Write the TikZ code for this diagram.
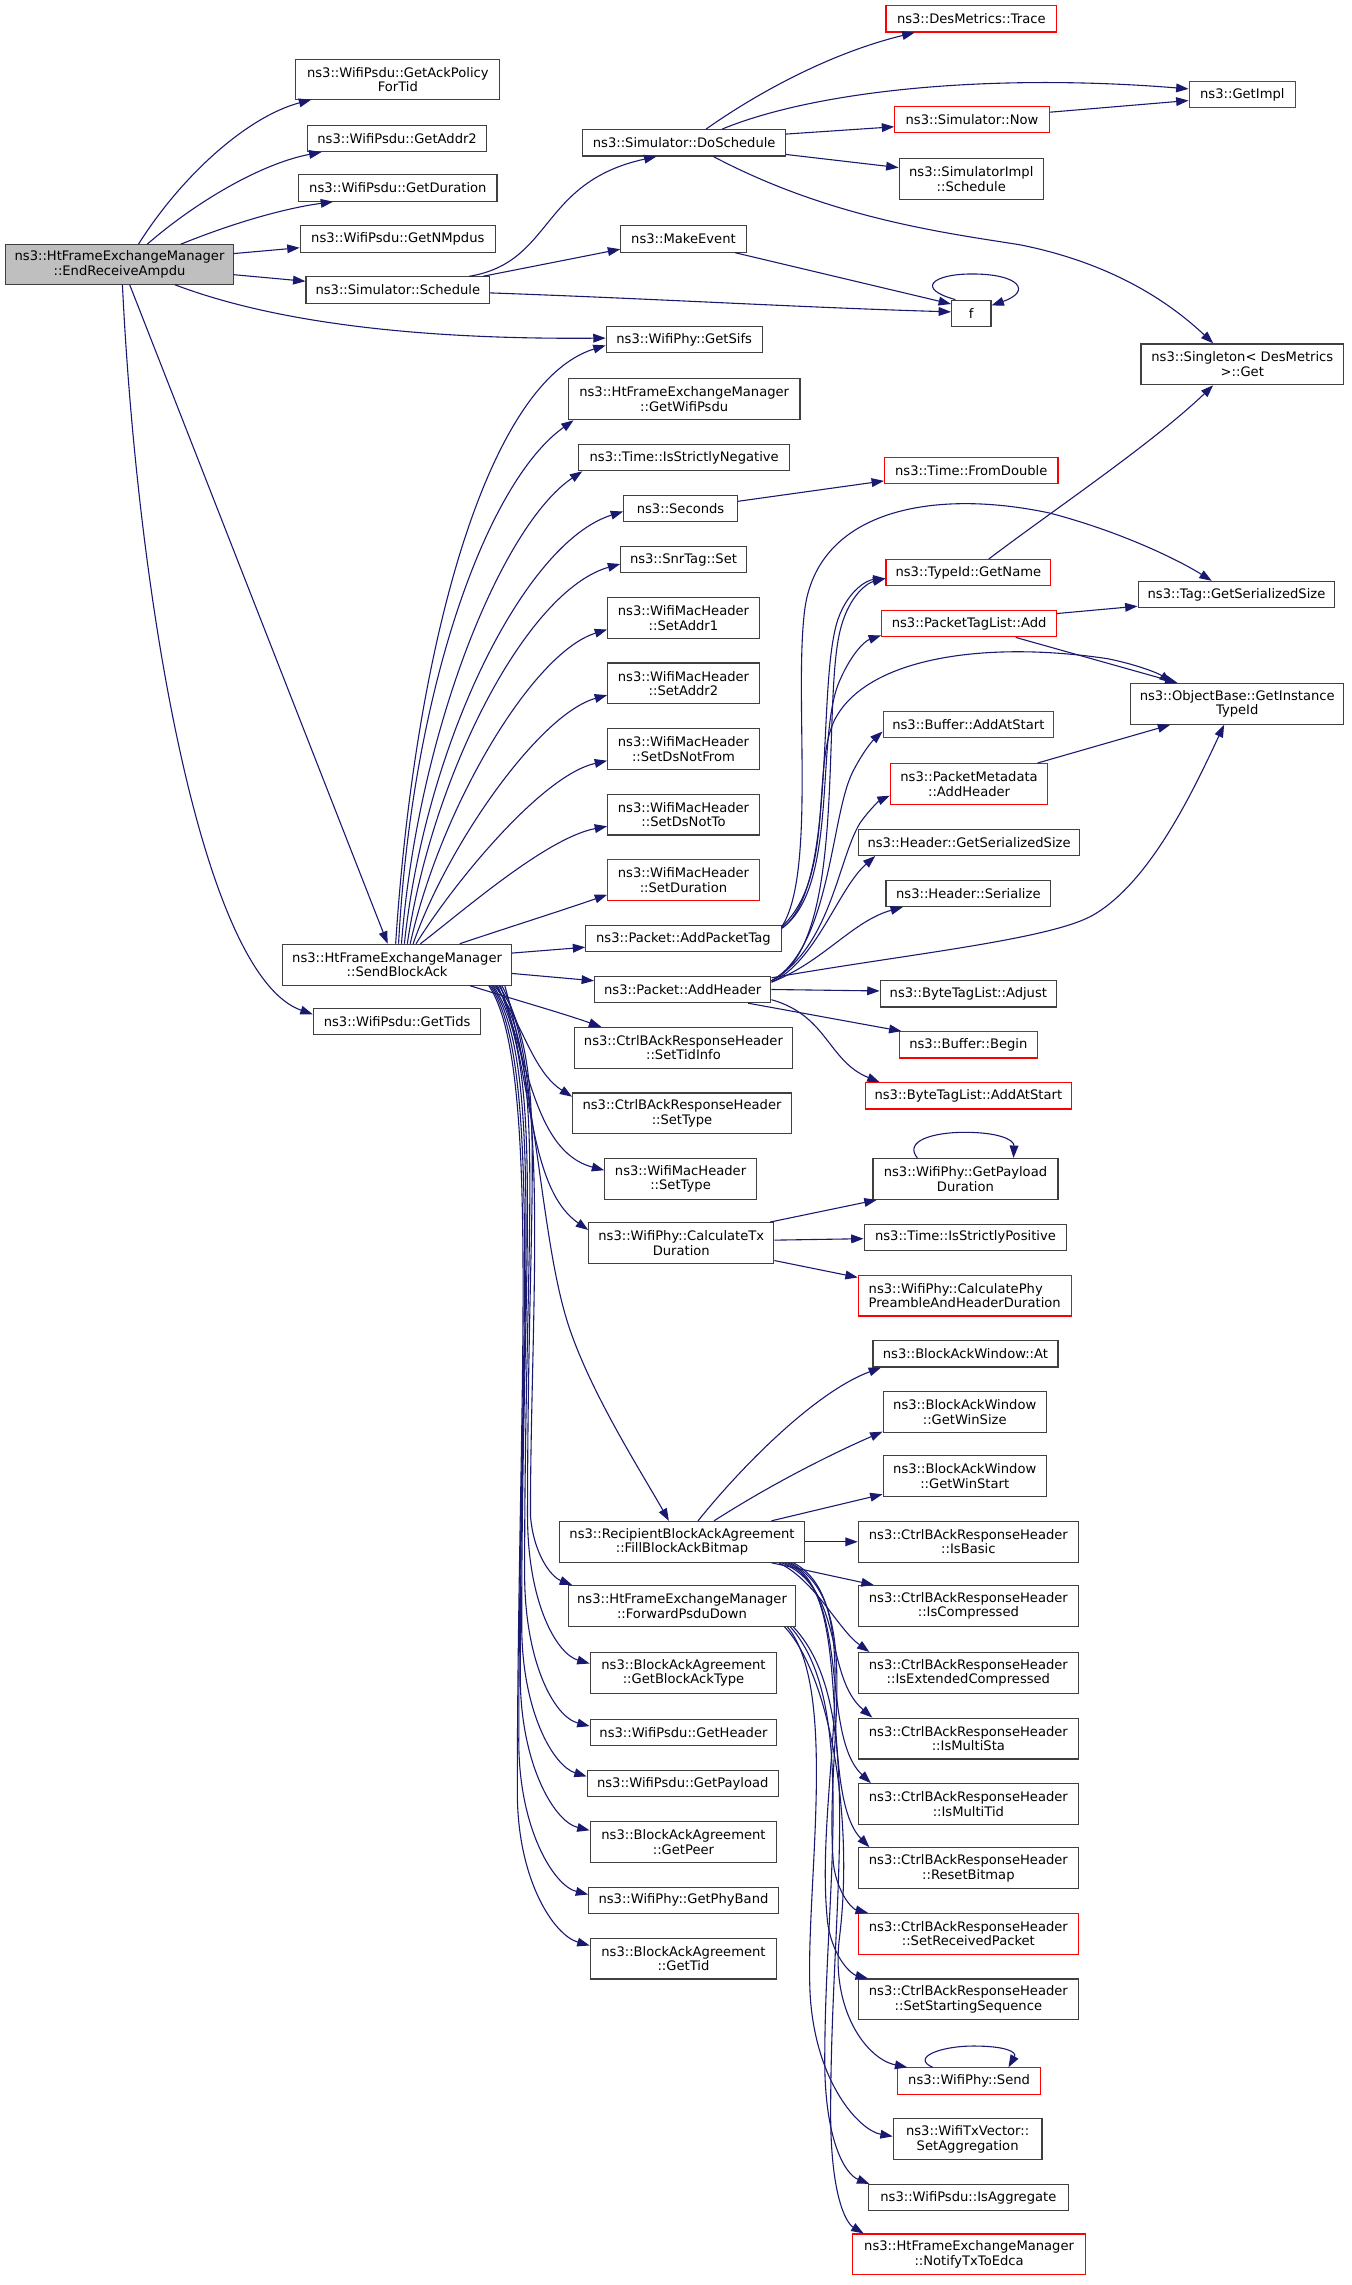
\documentclass[tikz,border=0pt]{standalone}
\usepackage{fontspec}
\setmainfont{DejaVu Sans}
\usetikzlibrary{arrows.meta}
\definecolor{edgeblue}{HTML}{191970}
\definecolor{rootfill}{HTML}{BFBFBF}
\definecolor{bordergray}{HTML}{404040}
\tikzset{
  box/.style={draw=bordergray, line width=0.8pt, fill=white, inner sep=0pt, align=center, font=\fontsize{9}{10}\selectfont},
  redbox/.style={box, draw=red},
  rootbox/.style={box, fill=rootfill},
  edg/.style={draw=edgeblue, line width=0.75pt, -{Triangle[length=8.5pt,width=6pt]}},
}
\newcommand\mybox[7][box]{%
  \pgfmathsetmacro\bxcx{(#3+#5)/2}%
  \pgfmathsetmacro\bxcy{-(#4+#6)/2}%
  \pgfmathsetmacro\bxw{#5-#3}%
  \pgfmathsetmacro\bxh{#6-#4}%
  \node[#1, minimum width=\bxw pt, minimum height=\bxh pt] (#2) at (\bxcx,\bxcy) {#7};}
\begin{document}
\begin{tikzpicture}[x=1pt,y=1pt]
\useasboundingbox (0,0) rectangle (927.1,-1568);
% column 1-2
\mybox[rootbox]{root}{4}{168}{160}{195}{ns3::HtFrameExchangeManager\\::EndReceiveAmpdu}
\mybox{ackpol}{203}{41}{343}{68}{ns3::WifiPsdu::GetAckPolicy\\ForTid}
\mybox{addr2}{211}{86}{334}{104}{ns3::WifiPsdu::GetAddr2}
\mybox{dur}{205}{120}{341}{138}{ns3::WifiPsdu::GetDuration}
\mybox{nmpdus}{206}{155}{340}{173}{ns3::WifiPsdu::GetNMpdus}
\mybox{sched}{210}{190}{336}{208}{ns3::Simulator::Schedule}
\mybox{sba}{194}{648}{351}{676}{ns3::HtFrameExchangeManager\\::SendBlockAck}
\mybox{tids}{215}{692}{330}{710}{ns3::WifiPsdu::GetTids}
% column 3
\mybox{dosched}{400}{89}{539}{107}{ns3::Simulator::DoSchedule}
\mybox{mkev}{426}{155}{512}{173}{ns3::MakeEvent}
\mybox{sifs}{416}{224}{523}{242}{ns3::WifiPhy::GetSifs}
\mybox{gwp}{390}{260}{549}{288}{ns3::HtFrameExchangeManager\\::GetWifiPsdu}
\mybox{isneg}{397}{305}{542}{323}{ns3::Time::IsStrictlyNegative}
\mybox{seconds}{428}{340}{506}{358}{ns3::Seconds}
\mybox{snrtag}{426}{375}{512}{393}{ns3::SnrTag::Set}
\mybox{addr1}{417}{410}{521}{438}{ns3::WifiMacHeader\\::SetAddr1}
\mybox{setaddr2}{417}{455}{521}{483}{ns3::WifiMacHeader\\::SetAddr2}
\mybox{dsnotfrom}{417}{500}{521}{528}{ns3::WifiMacHeader\\::SetDsNotFrom}
\mybox{dsnotto}{417}{545}{521}{573}{ns3::WifiMacHeader\\::SetDsNotTo}
\mybox[redbox]{setdur}{417}{590}{521}{618}{ns3::WifiMacHeader\\::SetDuration}
\mybox{addptag}{402}{635}{536}{653}{ns3::Packet::AddPacketTag}
\mybox{addhdr}{408}{670}{529}{688}{ns3::Packet::AddHeader}
\mybox{settid}{394}{705}{544}{733}{ns3::CtrlBAckResponseHeader\\::SetTidInfo}
\mybox{settype}{393}{750}{543}{778}{ns3::CtrlBAckResponseHeader\\::SetType}
\mybox{wmhsettype}{415}{795}{519}{823}{ns3::WifiMacHeader\\::SetType}
\mybox{calctx}{404}{839}{531}{867}{ns3::WifiPhy::CalculateTx\\Duration}
\mybox{fill}{384}{1044}{552}{1072}{ns3::RecipientBlockAckAgreement\\::FillBlockAckBitmap}
\mybox{fwd}{390}{1088}{546}{1116}{ns3::HtFrameExchangeManager\\::ForwardPsduDown}
\mybox{getbat}{405}{1134}{533}{1162}{ns3::BlockAckAgreement\\::GetBlockAckType}
\mybox{gethdr}{405}{1180}{533}{1198}{ns3::WifiPsdu::GetHeader}
\mybox{getpay}{403}{1215}{534}{1233}{ns3::WifiPsdu::GetPayload}
\mybox{getpeer}{405}{1250}{533}{1278}{ns3::BlockAckAgreement\\::GetPeer}
\mybox{getband}{404}{1295}{534}{1313}{ns3::WifiPhy::GetPhyBand}
\mybox{gettid}{405}{1330}{533}{1358}{ns3::BlockAckAgreement\\::GetTid}
% column 4
\mybox[redbox]{trace}{608}{4}{725}{22}{ns3::DesMetrics::Trace}
\mybox[redbox]{now}{614}{73}{720}{91}{ns3::Simulator::Now}
\mybox{simimpl}{617}{109}{716}{137}{ns3::SimulatorImpl\\::Schedule}
\mybox{f}{653}{206}{680}{224}{f}
\mybox[redbox]{fromdouble}{607}{314}{726}{332}{ns3::Time::FromDouble}
\mybox[redbox]{getname}{608}{384}{721}{402}{ns3::TypeId::GetName}
\mybox[redbox]{ptladd}{605}{419}{725}{437}{ns3::PacketTagList::Add}
\mybox[redbox]{addatstart}{606}{488}{723}{506}{ns3::Buffer::AddAtStart}
\mybox[redbox]{pmadd}{611}{524}{719}{552}{ns3::PacketMetadata\\::AddHeader}
\mybox{hgs}{589}{569}{741}{587}{ns3::Header::GetSerializedSize}
\mybox{hser}{608}{604}{721}{622}{ns3::Header::Serialize}
\mybox{bta}{604}{673}{725}{691}{ns3::ByteTagList::Adjust}
\mybox[redbox]{bbegin}{617}{708}{712}{726}{ns3::Buffer::Begin}
\mybox[redbox]{btaas}{594}{743}{735}{761}{ns3::ByteTagList::AddAtStart}
\mybox{payload}{599}{795}{726}{823}{ns3::WifiPhy::GetPayload\\Duration}
\mybox{ispos}{593}{840}{732}{858}{ns3::Time::IsStrictlyPositive}
\mybox[redbox, align=left]{calcphy}{589}{875}{735}{903}{ns3::WifiPhy::CalculatePhy\\PreambleAndHeaderDuration}
\mybox{bawat}{599}{920}{726}{938}{ns3::BlockAckWindow::At}
\mybox{winsize}{606}{955}{718}{983}{ns3::BlockAckWindow\\::GetWinSize}
\mybox{winstart}{606}{999}{718}{1027}{ns3::BlockAckWindow\\::GetWinStart}
\mybox{isbasic}{589}{1044}{740}{1072}{ns3::CtrlBAckResponseHeader\\::IsBasic}
\mybox{iscomp}{589}{1088}{740}{1116}{ns3::CtrlBAckResponseHeader\\::IsCompressed}
\mybox{isext}{589}{1134}{740}{1162}{ns3::CtrlBAckResponseHeader\\::IsExtendedCompressed}
\mybox{ismsta}{589}{1179}{740}{1207}{ns3::CtrlBAckResponseHeader\\::IsMultiSta}
\mybox{ismtid}{589}{1224}{740}{1252}{ns3::CtrlBAckResponseHeader\\::IsMultiTid}
\mybox{reset}{589}{1268}{740}{1296}{ns3::CtrlBAckResponseHeader\\::ResetBitmap}
\mybox[redbox]{setrecv}{589}{1313}{740}{1341}{ns3::CtrlBAckResponseHeader\\::SetReceivedPacket}
\mybox{setstart}{589}{1358}{740}{1386}{ns3::CtrlBAckResponseHeader\\::SetStartingSequence}
\mybox[redbox]{send}{616}{1419}{714}{1437}{ns3::WifiPhy::Send}
\mybox{setagg}{613}{1454}{715}{1482}{ns3::WifiTxVector::\\SetAggregation}
\mybox{isagg}{596}{1499}{733}{1517}{ns3::WifiPsdu::IsAggregate}
\mybox[redbox]{notify}{585}{1533}{745}{1561}{ns3::HtFrameExchangeManager\\::NotifyTxToEdca}
% column 5
\mybox[redbox]{getimpl}{816}{56}{889}{74}{ns3::GetImpl}
\mybox{singleton}{783}{236}{922}{264}{ns3::Singleton< DesMetrics\\>::Get}
\mybox{taggs}{781}{399}{916}{417}{ns3::Tag::GetSerializedSize}
\mybox{objbase}{776}{469}{922}{497}{ns3::ObjectBase::GetInstance\\TypeId}
% ---------- edges from root
\draw[edg] ([xshift=13pt]root.north) .. controls (125,-120) and (170,-80) .. ([xshift=11pt]ackpol.south west);
\draw[edg] ([xshift=19pt]root.north) .. controls (135,-138) and (180,-112) .. ([xshift=10pt]addr2.south west);
\draw[edg] ([xshift=42pt]root.north) .. controls (160,-153) and (195,-143) .. ([xshift=24pt]dur.south west);
\draw[edg] ([yshift=7.5pt]root.east) -- ([yshift=-6pt]nmpdus.west);
\draw[edg] ([yshift=-7pt]root.east) -- ([yshift=6pt]sched.west);
\draw[edg] ([xshift=38pt]root.south) .. controls (190,-222) and (290,-233) .. ([yshift=1pt]sifs.west);
\draw[edg] ([xshift=7pt]root.south) -- ([xshift=-6.5pt]sba.north);
\draw[edg] ([xshift=2pt]root.south) .. controls (95,-420) and (140,-670) .. ([yshift=5pt]tids.west);
% ---------- schedule
\draw[edg] ([xshift=49pt]sched.north) .. controls (380,-180) and (370,-125) .. ([xshift=-19pt]dosched.south);
\draw[edg] ([xshift=-5pt]sched.north east) -- ([yshift=-7pt]mkev.west);
\draw[edg] ([yshift=-2pt]sched.east) .. controls (450,-205) and (550,-211) .. ([yshift=1pt]f.west);
\draw[edg] ([xshift=-8pt]mkev.south east) -- ([yshift=-3pt]f.north west);
\draw[edg] ([xshift=3pt]f.north west) .. controls (628,-198) and (640,-188) .. (667,-188) .. controls (700,-188) and (708,-200) .. ([yshift=-4pt]f.north east);
% ---------- doschedule
\draw[edg] ([xshift=15pt]dosched.north) .. controls (525,-60) and (575,-35) .. ([xshift=20pt]trace.south west);
\draw[edg] ([xshift=26pt]dosched.north) .. controls (560,-62) and (680,-50) .. ([yshift=4pt]getimpl.west);
\draw[edg] ([yshift=6pt]dosched.east) -- ([yshift=-5pt]now.west);
\draw[edg] ([yshift=5pt]now.east) -- ([yshift=-4pt]getimpl.west);
\draw[edg] ([yshift=-8pt]dosched.east) -- ([yshift=8pt]simimpl.west);
\draw[edg] ([xshift=20pt]dosched.south) .. controls (570,-150) and (650,-160) .. (700,-168) .. controls (760,-180) and (800,-205) .. ([xshift=-20pt]singleton.north);
% ---------- misc
\draw[edg] ([yshift=5pt]seconds.east) -- ([yshift=-7pt]fromdouble.west);
\draw[edg] ([xshift=14pt]getname.north) .. controls (720,-352) and (790,-305) .. ([xshift=-20pt]singleton.south);
\draw[edg] ([yshift=7pt]ptladd.east) -- ([yshift=-8pt]taggs.west);
\draw[edg] ([xshift=32pt]ptladd.south) -- ([xshift=-41pt]objbase.north);
\draw[edg] ([xshift=47pt]pmadd.north) -- ([xshift=-46pt]objbase.south);
% ---------- AddPacketTag
\draw[edg] ([yshift=7pt]addptag.east) .. controls (575,-610) and (560,-470) .. (575,-425) .. controls (582,-405) and (595,-398) .. ([yshift=-4pt]getname.west);
\draw[edg] ([yshift=7pt]addptag.east) .. controls (575,-610) and (560,-510) .. (575,-470) .. controls (583,-450) and (593,-440) .. ([yshift=-8pt]ptladd.west);
\draw[edg] ([yshift=8pt]addptag.east) .. controls (560,-600) and (545,-480) .. (552,-420) .. controls (560,-350) and (640,-335) .. (720,-352) .. controls (770,-365) and (810,-385) .. ([xshift=-17pt]taggs.north);
\draw[edg] ([yshift=8pt]addptag.east) .. controls (575,-600) and (555,-520) .. (575,-490) .. controls (600,-450) and (680,-440) .. (760,-452) .. controls (780,-456) and (795,-462) .. ([xshift=-45pt]objbase.north);
% ---------- AddHeader
\draw[edg] ([yshift=6pt]addhdr.east) .. controls (580,-650) and (565,-500) .. (575,-440) .. controls (580,-410) and (595,-400) .. ([yshift=-4pt]getname.west);
\draw[edg] ([yshift=6pt]addhdr.east) .. controls (570,-650) and (570,-560) .. (585,-530) .. controls (592,-516) and (599,-508) .. ([yshift=-5pt]addatstart.west);
\draw[edg] ([yshift=6pt]addhdr.east) .. controls (570,-650) and (575,-590) .. (590,-565) .. controls (597,-555) and (604,-549) .. ([yshift=-8pt]pmadd.west);
\draw[edg] ([yshift=5pt]addhdr.east) .. controls (560,-660) and (575,-610) .. ([xshift=12pt]hgs.south west);
\draw[edg] ([yshift=5pt]addhdr.east) .. controls (565,-660) and (585,-632) .. ([xshift=12pt]hser.south west);
\draw[edg] ([yshift=8pt]addhdr.east) .. controls (620,-655) and (720,-645) .. (750,-628) .. controls (790,-605) and (820,-540) .. ([xshift=-9pt]objbase.south);
\draw[edg] (addhdr.east) -- ([yshift=2pt]bta.west);
\draw[edg] ([xshift=-16pt]addhdr.south east) -- ([xshift=2pt]bbegin.north west);
\draw[edg] ([yshift=-7pt]addhdr.east) .. controls (568,-697) and (568,-728) .. ([xshift=10pt]btaas.north west);
% ---------- SendBlockAck upwards
\draw[edg] ([xshift=-1pt]sba.north) .. controls (285,-440) and (335,-262) .. ([yshift=-4pt]sifs.west);
\draw[edg] ([xshift=1pt]sba.north) .. controls (283,-470) and (335,-330) .. ([xshift=4pt]gwp.south west);
\draw[edg] ([xshift=3pt]sba.north) .. controls (287,-500) and (345,-360) .. ([xshift=3pt]isneg.south west);
\draw[edg] ([xshift=5pt]sba.north) .. controls (292,-510) and (360,-372) .. ([yshift=-2pt]seconds.west);
\draw[edg] ([xshift=7pt]sba.north) .. controls (297,-530) and (362,-405) .. ([yshift=-3pt]snrtag.west);
\draw[edg] ([xshift=9pt]sba.north) .. controls (302,-555) and (365,-448) .. ([yshift=-8pt]addr1.west);
\draw[edg] ([xshift=11pt]sba.north) .. controls (307,-580) and (370,-490) .. ([yshift=-8pt]setaddr2.west);
\draw[edg] ([xshift=13pt]sba.north) .. controls (312,-605) and (372,-532) .. ([yshift=-8pt]dsnotfrom.west);
\draw[edg] ([xshift=16pt]sba.north) .. controls (318,-625) and (375,-575) .. ([yshift=-8pt]dsnotto.west);
\draw[edg] ([xshift=43pt]sba.north) .. controls (350,-636) and (385,-625) .. ([yshift=-10pt]setdur.west);
\draw[edg] ([yshift=8pt]sba.east) -- ([yshift=-6pt]addptag.west);
\draw[edg] ([yshift=-6pt]sba.east) -- ([yshift=6pt]addhdr.west);
% ---------- SendBlockAck downwards
\draw[edg] ([xshift=50pt]sba.south) .. controls (360,-688) and (385,-695) .. ([xshift=19pt]settid.north west);
\draw[edg] ([xshift=-12pt]sba.south east) .. controls (358,-700) and (365,-735) .. ([yshift=-3pt]settype.north west);
\draw[edg] ([xshift=-10pt]sba.south east) .. controls (362,-720) and (365,-790) .. ([yshift=6pt]wmhsettype.west);
\draw[edg] ([xshift=-8pt]sba.south east) .. controls (366,-740) and (362,-815) .. ([yshift=9pt]calctx.west);
\draw[edg] ([xshift=-5pt]sba.south east) .. controls (370,-760) and (372,-860) .. (392,-915) .. controls (408,-960) and (440,-1010) .. ([xshift=-9pt]fill.north);
\draw[edg] ([xshift=-7pt]sba.south east) .. controls (378,-740) and (364,-900) .. (364,-1040) .. controls (366,-1066) and (378,-1082) .. ([xshift=3pt]fwd.north west);
\draw[edg] ([xshift=-9pt]sba.south east) .. controls (377,-730) and (362,-800) .. (362,-1040) .. controls (362,-1100) and (382,-1135) .. ([yshift=6.5pt]getbat.west);
\draw[edg] ([xshift=-11pt]sba.south east) .. controls (376,-730) and (360,-830) .. (360,-1080) .. controls (360,-1140) and (380,-1178) .. ([yshift=4.5pt]gethdr.west);
\draw[edg] ([xshift=-13pt]sba.south east) .. controls (375,-730) and (358,-860) .. (358,-1115) .. controls (358,-1175) and (380,-1212) .. ([yshift=5pt]getpay.west);
\draw[edg] ([xshift=-14pt]sba.south east) .. controls (374,-730) and (357,-890) .. (357,-1150) .. controls (357,-1210) and (380,-1250) .. ([yshift=8pt]getpeer.west);
\draw[edg] ([xshift=-15pt]sba.south east) .. controls (373,-730) and (356,-930) .. (356,-1195) .. controls (356,-1255) and (380,-1294) .. ([yshift=4pt]getband.west);
\draw[edg] ([xshift=-16pt]sba.south east) .. controls (372,-730) and (355,-960) .. (355,-1230) .. controls (355,-1290) and (380,-1328) .. ([yshift=9pt]gettid.west);
% ---------- CalculateTxDuration
\draw[edg] ([xshift=-3pt]calctx.north east) -- ([xshift=3pt]payload.south west);
\draw[edg] ([yshift=2pt]calctx.east) -- ([yshift=-1pt]ispos.west);
\draw[edg] ([yshift=-12pt]calctx.east) -- ([yshift=-2pt]calcphy.north west);
\draw[edg] ([xshift=-33pt]payload.north) .. controls (620,-783) and (640,-777) .. (662,-777) .. controls (685,-777) and (696,-782) .. ([xshift=33pt]payload.north);
% ---------- FillBlockAckBitmap
\draw[edg] ([xshift=11pt]fill.north) .. controls (510,-1005) and (560,-955) .. ([xshift=6pt]bawat.south west);
\draw[edg] ([xshift=22pt]fill.north) .. controls (530,-1018) and (570,-998) .. ([yshift=1pt]winsize.south west);
\draw[edg] ([xshift=-23pt]fill.north east) -- ([yshift=2pt]winstart.south west);
\draw[edg] (fill.east) -- (isbasic.west);
\draw[edg] ([xshift=-23pt]fill.south east) -- ([xshift=11pt]iscomp.north west);
\draw[edg] ([xshift=-18pt]fill.south east) .. controls (560,-1085) and (575,-1118) .. ([xshift=8pt]isext.north west);
\draw[edg] ([xshift=-16pt]fill.south east) .. controls (580,-1090) and (565,-1150) .. ([xshift=10pt]ismsta.north west);
\draw[edg] ([xshift=-14pt]fill.south east) .. controls (585,-1090) and (562,-1190) .. ([xshift=9pt]ismtid.north west);
\draw[edg] ([xshift=-12pt]fill.south east) .. controls (588,-1090) and (560,-1230) .. ([xshift=8pt]reset.north west);
\draw[edg] ([xshift=-10pt]fill.south east) .. controls (595,-1100) and (565,-1200) .. (572,-1280) .. controls (575,-1300) and (585,-1310) .. ([xshift=7pt]setrecv.north west);
\draw[edg] ([xshift=-8pt]fill.south east) .. controls (598,-1100) and (558,-1230) .. (568,-1320) .. controls (572,-1345) and (585,-1355) .. ([xshift=7pt]setstart.north west);
% ---------- ForwardPsduDown
\draw[edg] ([xshift=-8pt]fwd.south east) .. controls (570,-1150) and (586,-1250) .. (576,-1330) .. controls (570,-1380) and (595,-1413) .. ([xshift=7pt]send.north west);
\draw[edg] ([xshift=-6pt]fwd.south east) .. controls (576,-1160) and (552,-1300) .. (556,-1370) .. controls (560,-1430) and (590,-1462) .. ([yshift=2pt]setagg.west);
\draw[edg] ([xshift=-4pt]fwd.south east) .. controls (590,-1170) and (565,-1300) .. (566,-1420) .. controls (567,-1470) and (580,-1492) .. ([xshift=1pt]isagg.north west);
\draw[edg] ([xshift=-2pt]fwd.south east) .. controls (595,-1170) and (570,-1300) .. (570,-1450) .. controls (570,-1505) and (580,-1525) .. ([xshift=8pt]notify.north west);
\draw[edg] ([xshift=-25pt]send.north) .. controls (625,-1412) and (645,-1404) .. (668,-1404) .. controls (690,-1404) and (698,-1408) .. ([xshift=27pt]send.north);
\end{tikzpicture}
\end{document}
